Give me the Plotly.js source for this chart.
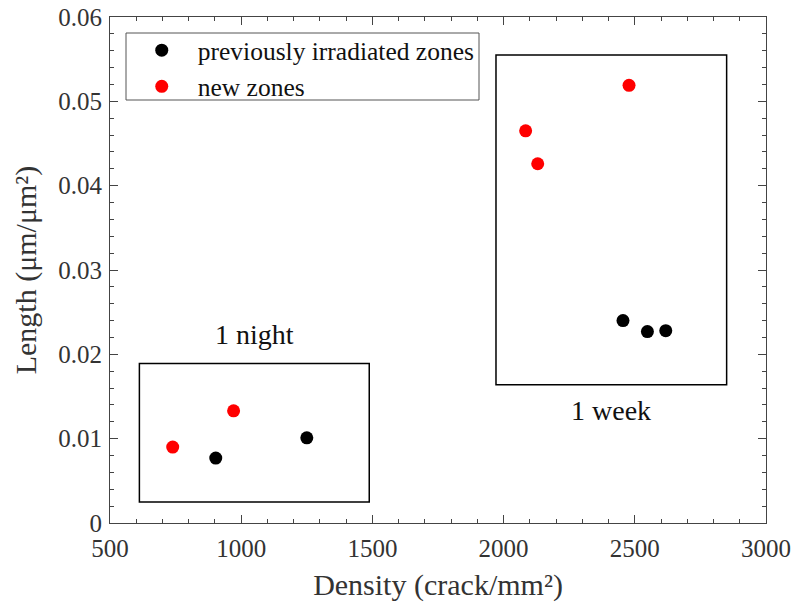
<!DOCTYPE html>
<html>
<head>
<meta charset="utf-8">
<script src="https://cdn.plot.ly/plotly-3.0.1.min.js"></script>
<style>html,body{margin:0;padding:0;background:#fff;}#chart{width:795px;height:608px;}</style>
</head>
<body>
<div id="chart"></div>
<script>
// Data
const prevDensity = [903, 1250, 2455, 2548, 2618];
const prevLength  = [0.0077, 0.0101, 0.0240, 0.0227, 0.0228];
const newDensity  = [739, 971, 2084, 2130, 2478];
const newLength   = [0.0090, 0.0133, 0.0465, 0.0426, 0.0519];
const seriesNames = ["previously irradiated zones", "new zones"];
const groupLabels = ["1 night", "1 week"];
const yTickVals   = [0, 0.01, 0.02, 0.03, 0.04, 0.05, 0.06];
const yTickText   = ["0", "0.01", "0.02", "0.03", "0.04", "0.05", "0.06"];
const xTickVals   = [500, 1000, 1500, 2000, 2500, 3000];
const xTickText   = ["500", "1000", "1500", "2000", "2500", "3000"];
// group boxes [x0, x1, y0, y1]
const nightBox = [612, 1488, 0.0025, 0.0189];
const weekBox  = [1971, 2850, 0.0164, 0.0555];

const FONT = "Liberation Serif, Times New Roman, serif";

const traces = [
  {x: prevDensity, y: prevLength, name: seriesNames[0], mode: "markers", type: "scatter",
   marker: {color: "#000000", size: 13}},
  {x: newDensity, y: newLength, name: seriesNames[1], mode: "markers", type: "scatter",
   marker: {color: "#ff0000", size: 13}}
];

const axisCommon = {
  showgrid: false, zeroline: false, showline: true, linecolor: "#444", linewidth: 1,
  ticks: "inside", ticklen: 8, tickcolor: "#444", mirror: "allticks",
  tickfont: {family: FONT, size: 25, color: "#333"}
};

const layout = {
  width: 795, height: 608,
  margin: {l: 110, r: 29, t: 17, b: 85},
  paper_bgcolor: "#fff", plot_bgcolor: "#fff",
  font: {family: FONT, color: "#333"},
  showlegend: true,
  legend: {x: 0.024, y: 0.98, xanchor: "left", yanchor: "top",
           bgcolor: "rgba(0,0,0,0)", borderwidth: 0, itemwidth: 62,
           font: {family: FONT, size: 25.5, color: "#111"}, tracegroupgap: 0},
  xaxis: Object.assign({}, axisCommon, {
    range: [500, 3000], tickmode: "array", tickvals: xTickVals, ticktext: xTickText,
    ticklabelstandoff: 3,
    minor: {tickmode: "linear", tick0: 500, dtick: 100, ticks: "inside", ticklen: 4, tickcolor: "#444"},
    title: {text: "Density (crack/mm²)", font: {family: FONT, size: 30, color: "#333"}, standoff: 12}
  }),
  yaxis: Object.assign({}, axisCommon, {
    range: [0, 0.06], tickmode: "array", tickvals: yTickVals, ticktext: yTickText,
    ticklabelstandoff: 2,
    minor: {tickmode: "linear", tick0: 0, dtick: 0.002, ticks: "inside", ticklen: 4, tickcolor: "#444"},
    title: {text: "Length (μm/μm²)", font: {family: FONT, size: 30, color: "#333"}, standoff: 12}
  }),
  shapes: [
    {type: "rect", xref: "x", yref: "y", x0: nightBox[0], x1: nightBox[1], y0: nightBox[2], y1: nightBox[3],
     line: {color: "#000", width: 1.5}},
    {type: "rect", xref: "x", yref: "y", x0: weekBox[0], x1: weekBox[1], y0: weekBox[2], y1: weekBox[3],
     line: {color: "#000", width: 1.5}},
    {type: "rect", xref: "paper", yref: "paper", x0: 16/656, x1: 369/656, y0: (523-100)/506, y1: (523-33)/506,
     line: {color: "#555", width: 1}}
  ],
  annotations: [
    {x: (nightBox[0]+nightBox[1])/2, y: nightBox[3], xref: "x", yref: "y", yanchor: "bottom", yshift: 12,
     text: groupLabels[0], showarrow: false, font: {family: FONT, size: 28, color: "#111"}},
    {x: (weekBox[0]+weekBox[1])/2, y: weekBox[2], xref: "x", yref: "y", yanchor: "top", yshift: -8,
     text: groupLabels[1], showarrow: false, font: {family: FONT, size: 28, color: "#111"}}
  ]
};

Plotly.newPlot("chart", traces, layout, {displayModeBar: false, staticPlot: true});
</script>
</body>
</html>
